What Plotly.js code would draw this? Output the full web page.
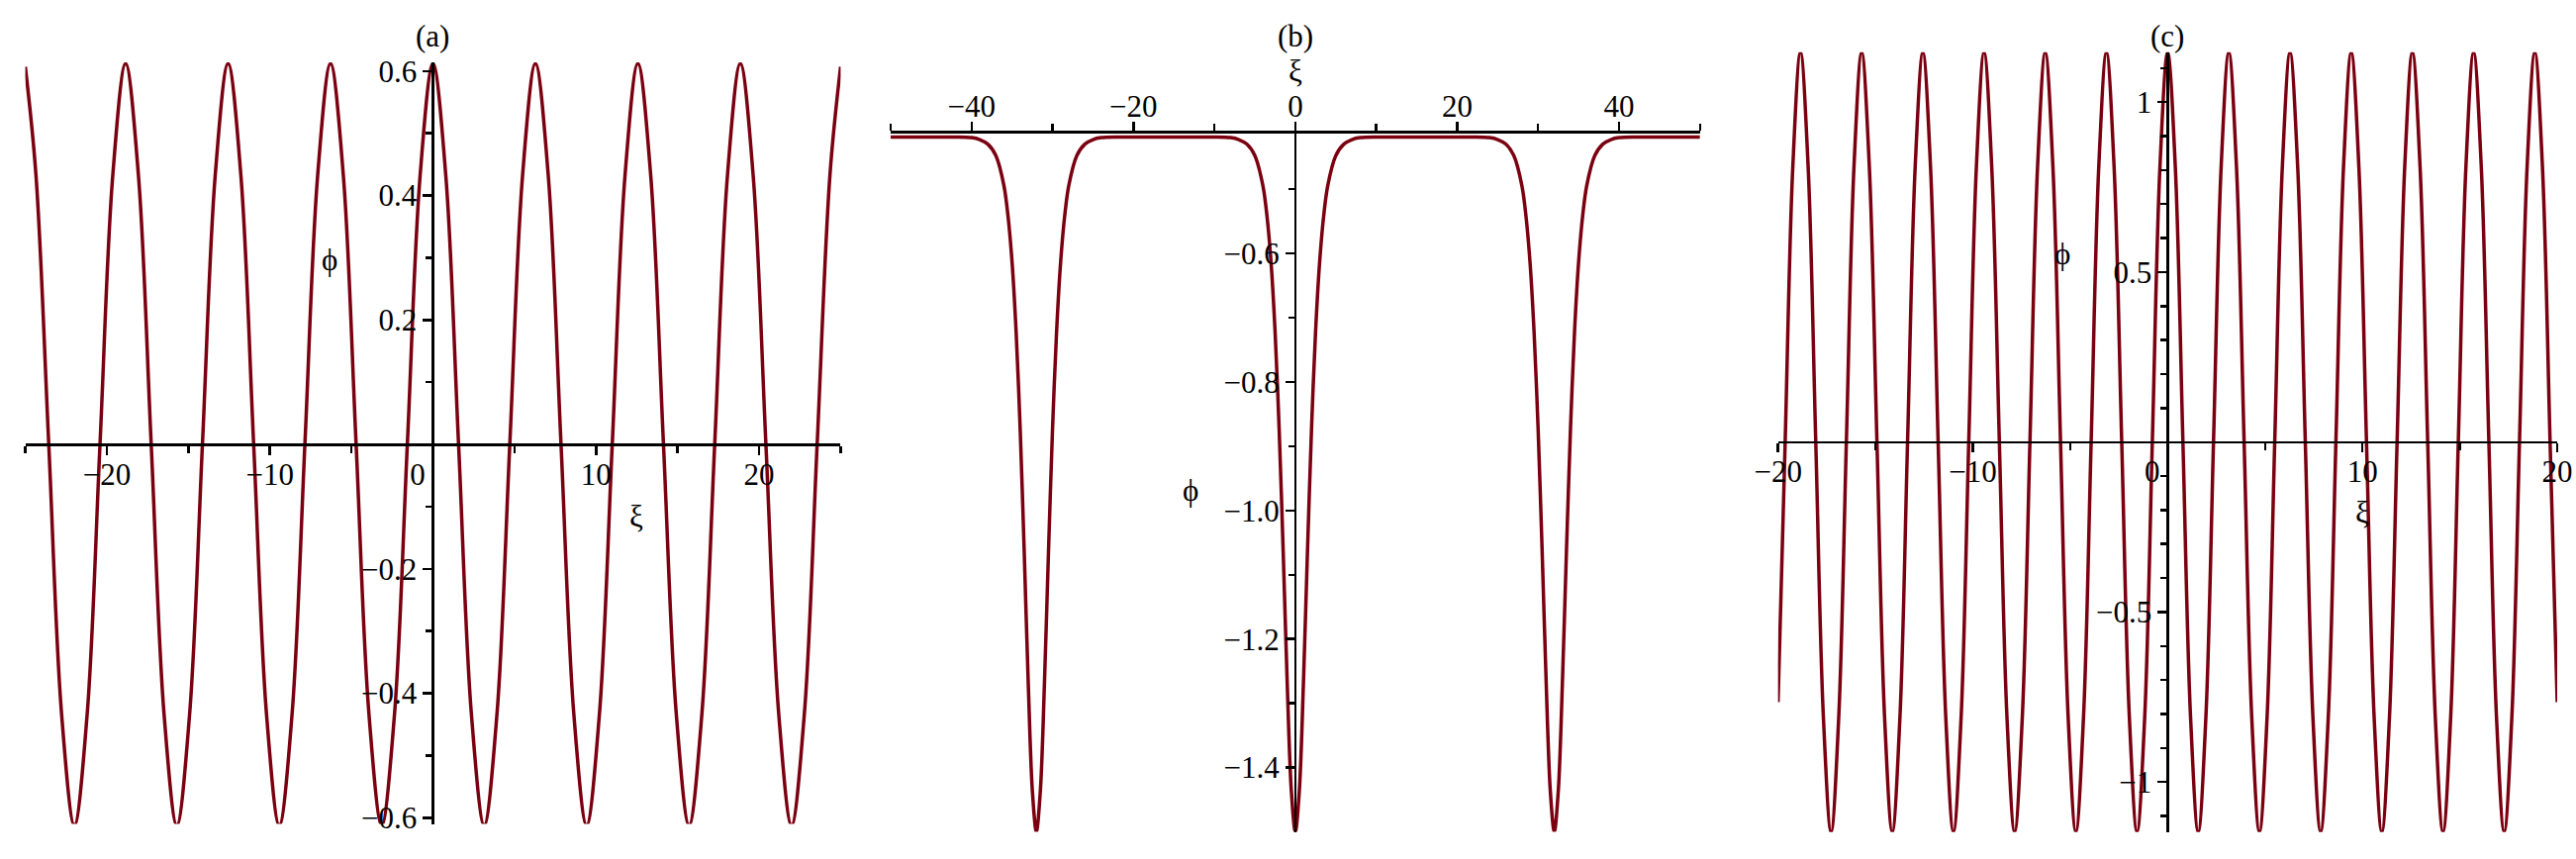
<!DOCTYPE html>
<html>
<head>
<meta charset="utf-8">
<script src="https://cdn.plot.ly/plotly-3.0.1.min.js"></script>
<style>
  html, body { margin: 0; padding: 0; background: #fff; }
  #chart { width: 2603px; height: 868px; }
</style>
</head>
<body>
<div id="chart"></div>
<script>
// Three Maple-style panels, axes crossing at the origin.
// Values (samples along each curve).

// (a) periodic wave, xi in [-25, 25]
const xiA = [
  -25, -24.347, -23.562, -22.777, -21.991, -21.206, -20.420, -19.635, -18.850,
  -18.064, -17.279, -16.493, -15.708, -14.923, -14.137, -13.352, -12.566,
  -11.781, -10.996, -10.210, -9.425, -8.639, -7.854, -7.069, -6.283,
  -5.498, -4.712, -3.927, -3.142, -2.356, -1.571, -0.785, 0,
  0.785, 1.571, 2.356, 3.142, 3.927, 4.712, 5.498, 6.283,
  7.069, 7.854, 8.639, 9.425, 10.210, 10.996, 11.781, 12.566,
  13.352, 14.137, 14.923, 15.708, 16.493, 17.279, 18.064, 18.850,
  19.635, 20.420, 21.206, 21.991, 22.777, 23.562, 24.347, 25
];
const phiA = [
  0.607, 0.433, 0, -0.433, -0.612, -0.433, 0, 0.433, 0.612,
  0.433, 0, -0.433, -0.612, -0.433, 0, 0.433, 0.612,
  0.433, 0, -0.433, -0.612, -0.433, 0, 0.433, 0.612,
  0.433, 0, -0.433, -0.612, -0.433, 0, 0.433, 0.612,
  0.433, 0, -0.433, -0.612, -0.433, 0, 0.433, 0.612,
  0.433, 0, -0.433, -0.612, -0.433, 0, 0.433, 0.612,
  0.433, 0, -0.433, -0.612, -0.433, 0, 0.433, 0.612,
  0.433, 0, -0.433, -0.612, -0.433, 0, 0.433, 0.607
];

// (b) train of dips, xi in [-50, 50]
const xiB = [
  -50, -44, -42, -40, -39, -38, -37, -36,
  -35.5, -35, -34.5, -34, -33.5, -33, -32.5, -32,
  -31.5, -31, -30.5, -30, -29.5, -29, -28.5, -28,
  -27, -26, -25, -24, -22, -20,
  -16,
  -12, -10, -8, -7, -6, -5, -4,
  -3.5, -3, -2.5, -2, -1.5, -1, -0.5, 0,
  0.5, 1, 1.5, 2, 2.5, 3, 3.5, 4,
  5, 6, 7, 8, 10, 12,
  16,
  20, 22, 24, 25, 26, 27, 28,
  28.5, 29, 29.5, 30, 30.5, 31, 31.5, 32,
  32.5, 33, 33.5, 34, 34.5, 35, 35.5, 36,
  37, 38, 39, 40, 42, 44,
  50
];
const phiB = [
  -0.419, -0.419, -0.419, -0.420, -0.423, -0.430, -0.448, -0.495,
  -0.542, -0.614, -0.722, -0.873, -1.064, -1.269, -1.435, -1.500,
  -1.435, -1.269, -1.064, -0.873, -0.722, -0.614, -0.542, -0.495,
  -0.448, -0.430, -0.423, -0.420, -0.419, -0.419,
  -0.419,
  -0.419, -0.419, -0.420, -0.423, -0.430, -0.448, -0.495,
  -0.542, -0.614, -0.722, -0.873, -1.064, -1.269, -1.435, -1.500,
  -1.435, -1.269, -1.064, -0.873, -0.722, -0.614, -0.542, -0.495,
  -0.448, -0.430, -0.423, -0.420, -0.419, -0.419,
  -0.419,
  -0.419, -0.419, -0.420, -0.423, -0.430, -0.448, -0.495,
  -0.542, -0.614, -0.722, -0.873, -1.064, -1.269, -1.435, -1.500,
  -1.435, -1.269, -1.064, -0.873, -0.722, -0.614, -0.542, -0.495,
  -0.448, -0.430, -0.423, -0.420, -0.419, -0.419,
  -0.419
];

// (c) faster periodic wave, xi in [-20, 20]
const xiC = [
  -20, -19.635, -19.242, -18.850, -18.457, -18.064, -17.671, -17.279, -16.886,
  -16.493, -16.101, -15.708, -15.315, -14.923, -14.530, -14.137, -13.744,
  -13.352, -12.959, -12.566, -12.174, -11.781, -11.388, -10.996, -10.603,
  -10.210, -9.817, -9.425, -9.032, -8.639, -8.247, -7.854, -7.461,
  -7.069, -6.676, -6.283, -5.890, -5.498, -5.105, -4.712, -4.320,
  -3.927, -3.534, -3.142, -2.749, -2.356, -1.963, -1.571, -1.178,
  -0.785, -0.393, 0,
  0.393, 0.785, 1.178, 1.571, 1.963, 2.356, 2.749, 3.142,
  3.534, 3.927, 4.320, 4.712, 5.105, 5.498, 5.890, 6.283,
  6.676, 7.069, 7.461, 7.854, 8.247, 8.639, 9.032, 9.425,
  9.817, 10.210, 10.603, 10.996, 11.388, 11.781, 12.174, 12.566,
  12.959, 13.352, 13.744, 14.137, 14.530, 14.923, 15.315, 15.708,
  16.101, 16.493, 16.886, 17.279, 17.671, 18.064, 18.457, 18.850,
  19.242, 19.635, 20
];
const phiC = [
  -0.765, 0, 0.811, 1.147, 0.811, 0, -0.811, -1.147, -0.811,
  0, 0.811, 1.147, 0.811, 0, -0.811, -1.147, -0.811,
  0, 0.811, 1.147, 0.811, 0, -0.811, -1.147, -0.811,
  0, 0.811, 1.147, 0.811, 0, -0.811, -1.147, -0.811,
  0, 0.811, 1.147, 0.811, 0, -0.811, -1.147, -0.811,
  0, 0.811, 1.147, 0.811, 0, -0.811, -1.147, -0.811,
  0, 0.811, 1.147,
  0.811, 0, -0.811, -1.147, -0.811, 0, 0.811, 1.147,
  0.811, 0, -0.811, -1.147, -0.811, 0, 0.811, 1.147,
  0.811, 0, -0.811, -1.147, -0.811, 0, 0.811, 1.147,
  0.811, 0, -0.811, -1.147, -0.811, 0, 0.811, 1.147,
  0.811, 0, -0.811, -1.147, -0.811, 0, 0.811, 1.147,
  0.811, 0, -0.811, -1.147, -0.811, 0, 0.811, 1.147,
  0.811, 0, -0.765
];

// tick labels
const xTicksA = [-20, -10, 0, 10, 20];
const xTextA = ["\u221220", "\u221210", "0\u2003", "10", "20"];
const xMinorA = [-25, -15, -5, 5, 15, 25];
const yTicksA = [-0.6, -0.4, -0.2, 0.2, 0.4, 0.6];
const yTextA = ["\u22120.6", "\u22120.4", "\u22120.2", "0.2", "0.4", "0.6"];
const yMinorA = [-0.5, -0.3, -0.1, 0.1, 0.3, 0.5];

const xTicksB = [-40, -20, 0, 20, 40];
const xTextB = ["\u221240", "\u221220", "0", "20", "40"];
const xMinorB = [-50, -30, -10, 10, 30, 50];
const yTicksB = [-1.4, -1.2, -1.0, -0.8, -0.6];
const yTextB = ["\u22121.4", "\u22121.2", "\u22121.0", "\u22120.8", "\u22120.6"];
const yMinorB = [-1.3, -1.1, -0.9, -0.7, -0.5];

const xTicksC = [-20, -10, 0, 10, 20];
const xTextC = ["\u221220", "\u221210", "0\u2003", "10", "20"];
const xMinorC = [-15, -5, 5, 15];
const yTicksC = [-1, -0.5, 0.5, 1];
const yTextC = ["\u22121", "\u22120.5", "0.5", "1"];
const yMinorC = [-1.1, -0.9, -0.8, -0.7, -0.6, -0.4, -0.3, -0.2, -0.1,
                 0.1, 0.2, 0.3, 0.4, 0.6, 0.7, 0.8, 0.9, 1.1];

const panelLabels = ["(a)", "(b)", "(c)"];

const FONT = "Liberation Serif, Times New Roman, serif";
const FSIZE = 31;
const CURVE = "#7a0010";

const panels = [
  { x: xiA, y: phiA, xr: [-25, 25], yr: [-0.61, 0.614],
    xd: [0.00983, 0.32632], yd: [0.0408, 0.9274],
    xt: [xTicksA, xTextA, xMinorA], yt: [yTicksA, yTextA, yMinorA],
    xiPos: [12.5, -0.116], phiPos: [-6.34, 0.297], smooth: 1 },
  { x: xiB, y: phiB, xr: [-50, 50], yr: [-1.5, -0.411],
    xd: [0.34576, 0.65993], yd: [0.0316, 0.8465],
    xt: [xTicksB, xTextB, xMinorB], yt: [yTicksB, yTextB, yMinorB],
    xiPos: null, phiPos: [-12.9, -0.969], smooth: 0.9 },
  { x: xiC, y: phiC, xr: [-20, 20], yr: [-1.147, 1.147],
    xd: [0.69024, 0.99270], yd: [0.0315, 0.9393],
    xt: [xTicksC, xTextC, xMinorC], yt: [yTicksC, yTextC, yMinorC],
    xiPos: [10.0, -0.205], phiPos: [-5.39, 0.555], smooth: 1 }
];

function fracOf(v, range, dom) {
  const t = (v - range[0]) / (range[1] - range[0]);
  return dom[0] + Math.min(Math.max(t, 0), 1) * (dom[1] - dom[0]);
}

const traces = [];
const layout = {
  width: 2603,
  height: 868,
  margin: { l: 0, r: 0, t: 0, b: 0, pad: 0 },
  paper_bgcolor: "#fff",
  plot_bgcolor: "rgba(0,0,0,0)",
  showlegend: false,
  font: { family: FONT, size: FSIZE, color: "#000" },
  annotations: []
};

function label(text, xref, x, yref, y) {
  return {
    text, xref, x, yref, y,
    showarrow: false, xanchor: "center", yanchor: "middle",
    font: { family: FONT, size: FSIZE, color: "#000" }
  };
}

panels.forEach((p, i) => {
  const n = i === 0 ? "" : String(i + 1);
  const xa = "x" + n, ya = "y" + n;

  traces.push({
    x: p.x, y: p.y, xaxis: xa, yaxis: ya,
    type: "scatter", mode: "lines",
    line: { color: CURVE, width: 3.5, shape: "spline", smoothing: p.smooth },
    hoverinfo: "skip"
  });

  const axisTop = p.yr[1] < 0;  // zero is above the view: axis sits at the top
  const common = {
    showline: true, linecolor: "#000", linewidth: 2.5,
    ticks: "outside", ticklen: 9, tickwidth: 2.5, tickcolor: "#000",
    showgrid: false, zeroline: false, fixedrange: true,
    tickfont: { family: FONT, size: FSIZE, color: "#000" },
    tickmode: "array"
  };

  layout["xaxis" + n] = Object.assign({}, common, {
    domain: p.xd, range: p.xr,
    anchor: "free",
    side: axisTop ? "top" : "bottom",
    position: fracOf(0, p.yr, p.yd),
    ticklabelstandoff: -7,
    tickvals: p.xt[0], ticktext: p.xt[1],
    minor: { tickmode: "array", tickvals: p.xt[2], ticks: "outside",
             ticklen: 7, tickwidth: 2.5, tickcolor: "#000", showgrid: false }
  });
  layout["yaxis" + n] = Object.assign({}, common, {
    domain: p.yd, range: p.yr,
    anchor: "free",
    side: "left",
    position: fracOf(0, p.xr, p.xd),
    tickvals: p.yt[0], ticktext: p.yt[1],
    minor: { tickmode: "array", tickvals: p.yt[2], ticks: "outside",
             ticklen: 6, tickwidth: 2.5, tickcolor: "#000", showgrid: false }
  });

  // panel letter above the vertical axis
  layout.annotations.push(label(panelLabels[i], xa, 0, "paper", 1 - 36 / 868));

  // axis names
  if (p.xiPos) {
    layout.annotations.push(label("\u03be", xa, p.xiPos[0], ya, p.xiPos[1]));
  } else {
    layout.annotations.push(label("\u03be", xa, 0, "paper", 1 - 72 / 868));
  }
  layout.annotations.push(label("\u03d5", xa, p.phiPos[0], ya, p.phiPos[1]));
});

Plotly.newPlot("chart", traces, layout, { displayModeBar: false, staticPlot: true });
</script>
</body>
</html>
